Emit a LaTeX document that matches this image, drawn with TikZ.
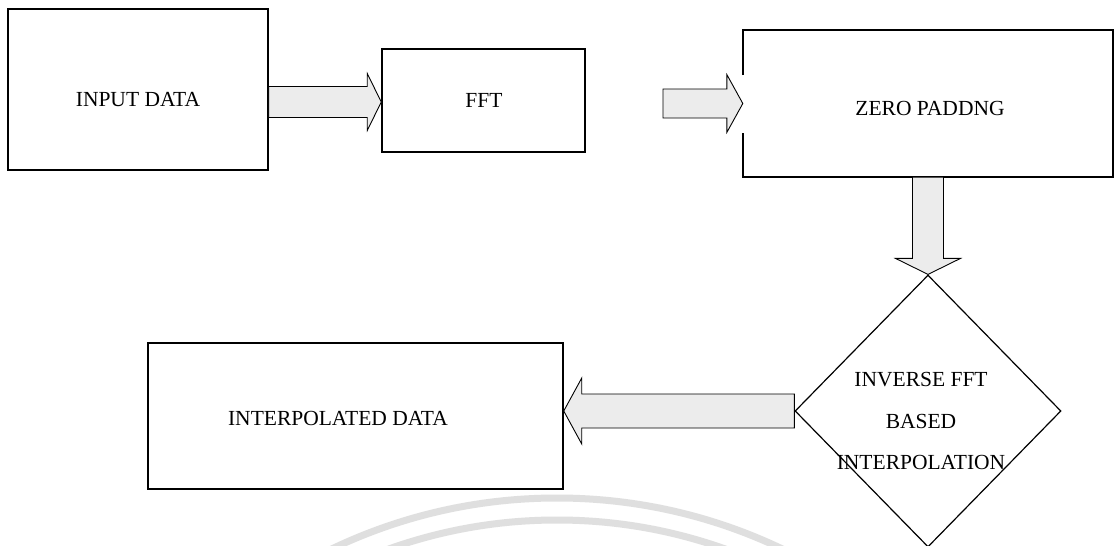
\documentclass[tikz,border=0pt]{standalone}
\usepackage{fontspec}
\setmainfont{Liberation Serif}
\usetikzlibrary{calc,shapes.geometric}
% #1 from, #2 to, #3 shaft half width, #4 head half width, #5 head length
\newcommand\fatarr[5]{%
  \coordinate (fa-b) at ($(#2)!#5!(#1)$);
  \filldraw[fatarrow] ($(#1)!#3!90:(#2)$) -- ($(fa-b)!#3!-90:(#1)$) -- ($(fa-b)!#4!-90:(#1)$)
    -- (#2) -- ($(fa-b)!#4!90:(#1)$) -- ($(fa-b)!#3!90:(#1)$) -- ($(#1)!#3!-90:(#2)$) -- cycle;}
\begin{document}
\begin{tikzpicture}[x=1pt,y=-1pt,
  box/.style={draw=black,line width=1.5pt,rectangle,inner sep=0pt},
  boxline/.style={draw=black,line width=1.5pt},
  txt/.style={font=\fontsize{21.5}{25}\selectfont,inner sep=0pt},
  fatarrow/.style={draw=black,line width=0.9pt,fill=gray!15,line join=miter},
  wm/.style={draw=gray!25,line width=7pt}]
\useasboundingbox (0,0) rectangle (1114,546);
\fill[white] (0,0) rectangle (1114,546);
% watermark arcs
\begin{scope}
  \clip (0,0) rectangle (1114,546);
  \draw[wm] (557,1020) circle[radius=522pt];
  \draw[wm] (557,1020) circle[radius=500pt];
\end{scope}
% boxes
\node[box,minimum width=260pt,minimum height=161pt] (inp) at (138,89.5) {};
\node[txt] (inptxt) at (138,100) {INPUT DATA};
\node[box,minimum width=203pt,minimum height=103pt] (fft) at (483.5,100.5) {};
\node[txt] (ffttxt) at (484,100) {FFT};
\node[rectangle,inner sep=0pt,minimum width=370pt,minimum height=147pt] (zp) at (928,103.5) {};
\draw[boxline] (zp.west |- 0,75) -- (zp.north west) -- (zp.north east) -- (zp.south east) -- (zp.south west) -- (zp.west |- 0,133);
\node[txt] (zptxt) at (930,108) {ZERO PADDNG};
\node[diamond,draw=black,line width=1.2pt,inner sep=0pt,minimum width=266pt,minimum height=272pt] (dia) at (928,411) {};
\node[txt,align=center,font=\fontsize{21.5}{41.5}\selectfont] (diatxt) at (921,421) {INVERSE FFT\\BASED\\INTERPOLATION};
\node[box,minimum width=415pt,minimum height=146pt] (outb) at (355.5,416) {};
\node[txt] (outtxt) at (338,418) {INTERPOLATED DATA};
% arrows
\coordinate (a1s) at (inp.east |- 0,102);
\coordinate (a1e) at (fft.west |- 0,102);
\fatarr{a1s}{a1e}{15.5pt}{28.5pt}{14pt}
\coordinate (a2s) at (663,103.5);
\coordinate (a2e) at (zp.west |- a2s);
\fatarr{a2s}{a2e}{14.5pt}{29pt}{16pt}
\fatarr{zp.south}{dia.north}{15.5pt}{32.5pt}{16pt}
\coordinate (a4e) at (outb.east |- dia.west);
\fatarr{dia.west}{a4e}{17pt}{33pt}{18pt}
\end{tikzpicture}
\end{document}
